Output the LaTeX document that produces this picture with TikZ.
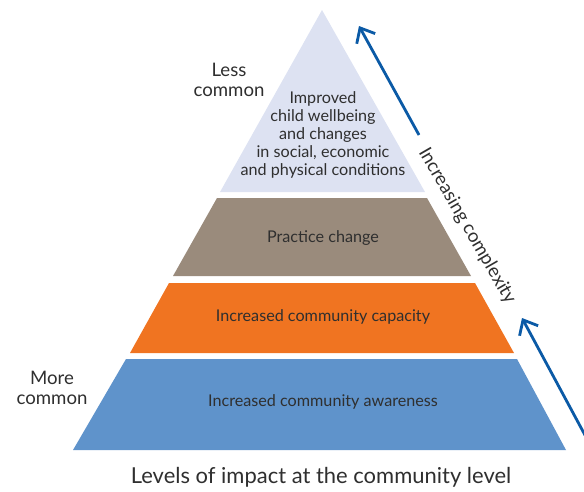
\documentclass[tikz,border=0pt]{standalone}
\usepackage{fontspec}
\setmainfont{Lato}
\usetikzlibrary{arrows.meta}

\definecolor{topblue}{HTML}{DDE2F2}
\definecolor{stone}{HTML}{9A8B7C}
\definecolor{tango}{HTML}{F07421}
\definecolor{sky}{HTML}{5F93CB}
\definecolor{arrowblue}{HTML}{0B5AA6}
\definecolor{ink}{HTML}{2F2F2F}

\begin{document}
\begin{tikzpicture}[x=0.02cm, y=-0.02cm, every node/.style={text=ink, align=center, font=\fontsize{9.2}{10.2}\selectfont},
    complexity/.style={arrowblue, line width=1.6pt, -{Straight Barb[length=7pt, width=12pt, line width=1.6pt]}}]
    \useasboundingbox (0,0) rectangle (584,491);

    \draw[fill=topblue, draw=none] (322,10) -- (425,192) -- (220,192) -- cycle;
    \node (Wellbeing) at (323,135) {Improved\\child wellbeing\\and changes\\in social, economic\\and physical conditions};

    \draw[fill=stone, draw=none] (217,198) -- (427,198) -- (471,276) -- (173,276) -- cycle;
    \node (Practice) at (323,238) {Practice change};

    \draw[fill=tango, draw=none] (169,283) -- (475,283) -- (514,353) -- (130,353) -- cycle;
    \node (Capacity) at (323,317) {Increased community capacity};

    \draw[fill=sky, draw=none] (126,359) -- (517,359) -- (566,450) -- (73,450) -- cycle;
    \node (Awareness) at (323,402) {Increased community awareness};

    \node[font=\fontsize{10.6}{11.5}\selectfont] (Less) at (229,80) {Less\\common};
    \node[font=\fontsize{10.6}{11.5}\selectfont] (More) at (52,388) {More\\common};

    \node[rotate=-60, font=\fontsize{10.6}{12}\selectfont] (Complexity) at (467,226) {Increasing complexity};

    \coordinate (UpTail) at (419,135);
    \coordinate (UpTip) at (359,26);
    \draw[complexity] (UpTail) -- (UpTip);
    \coordinate (LowTail) at (586,437);
    \coordinate (LowTip) at (522,318);
    \draw[complexity] (LowTail) -- (LowTip);

    \node[font=\fontsize{12.5}{14}\selectfont] (Title) at (321,477) {Levels of impact at the community level};
\end{tikzpicture}
\end{document}
